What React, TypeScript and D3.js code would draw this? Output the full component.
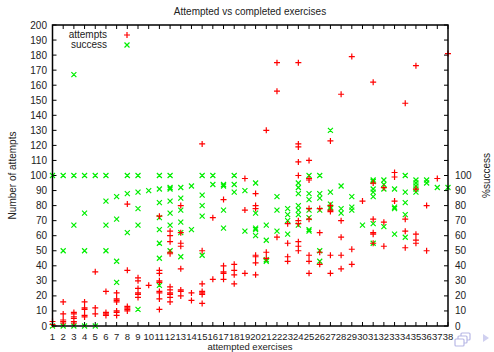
import * as d3 from "d3";

// exercise number on the x axis
const exercises = [1, 2, 3, 4, 5, 6, 7, 8, 9, 10, 11, 12, 13, 14, 15, 16, 17, 18, 19, 20, 21, 22, 23, 24, 25, 26, 27, 28, 29, 30, 31, 32, 33, 34, 35, 36, 37, 38];

// number of attempts per student, one list per exercise
const attempts = [
  [3, 1],
  [16, 8, 4, 3, 2],
  [9, 8, 6, 5, 3, 2],
  [16, 12, 11, 7, 6],
  [36, 12, 8],
  [23, 9, 8, 7],
  [22, 18, 17, 16, 10, 9, 7],
  [81, 37, 13, 12, 11, 10],
  [32, 30, 25, 22, 21, 19],
  [27],
  [73, 37, 35, 30, 29, 23, 22, 18, 11],
  [63, 60, 56, 49, 48, 26, 24, 22, 21, 19, 16],
  [80, 62, 55, 53, 38, 24, 23, 20],
  [22, 17],
  [121, 50, 28, 23, 22, 21, 15],
  [72, 31],
  [84, 40, 36, 35, 31],
  [41, 37, 34, 28],
  [98, 77, 35],
  [88, 80, 78, 47, 46, 42, 34],
  [130, 49, 45],
  [175, 156, 59],
  [68, 55, 46, 43],
  [175, 121, 119, 109, 100, 70, 68, 56, 53, 50],
  [110, 98, 97, 78, 71, 47, 43, 35],
  [78, 62, 49, 41],
  [123, 80, 77, 76, 47, 35],
  [154, 70, 59, 47, 38],
  [179, 51, 41],
  [83],
  [162, 95, 71, 62, 61, 55],
  [92, 69, 53],
  [102, 99, 83],
  [148, 71, 63, 52],
  [173, 91, 61, 57, 55],
  [80, 50],
  [98],
  [181],
];

// %success per student, one list per exercise
const success = [
  [100, 0],
  [100, 50, 0],
  [167, 100, 67, 0],
  [100, 75, 50, 0],
  [100, 0],
  [100, 83, 67, 50],
  [86, 71, 43, 29],
  [100, 88, 62],
  [100, 89, 78, 67, 11],
  [90],
  [100, 91, 82, 72, 64, 55, 45, 27],
  [100, 92, 91, 83, 75, 67, 50],
  [92, 85, 77, 69, 62, 46],
  [93, 64],
  [100, 87, 80, 73, 47],
  [100, 94],
  [94, 93, 77, 65],
  [100, 94, 89],
  [90, 63],
  [95, 75, 65, 64, 60],
  [67, 57, 44, 43],
  [86, 77, 63],
  [78, 74, 70, 61],
  [95, 92, 88, 80, 77, 74, 67],
  [100, 88, 84, 77, 72, 64, 63],
  [100, 88, 85, 77, 50, 43],
  [130, 89, 81, 79, 78],
  [93, 78, 75],
  [86, 79, 77],
  [67],
  [97, 96, 91, 89, 86, 68, 55],
  [97, 94, 91, 66],
  [91, 79, 78, 61],
  [100, 89, 82, 74, 59],
  [97, 95, 93, 91, 89],
  [97, 95],
  [92],
  [92],
];

const yTicks = [0, 10, 20, 30, 40, 50, 60, 70, 80, 90, 100, 110, 120, 130, 140, 150, 160, 170, 180, 190, 200];
const y2Labels = [0, 10, 20, 30, 40, 50, 60, 70, 80, 90, 100];

const font = "'Liberation Sans', Arial, sans-serif";

export default function App() {
  const width = 494;
  const height = 352;
  const left = 52.5;
  const right = 448;
  const top = 25;
  const bottom = 326;

  const x = d3.scaleLinear().domain([1, 38]).range([left, right]);
  const y = d3.scaleLinear().domain([0, 200]).range([bottom, top]);

  const plus = (cx: number, cy: number) => `M${cx - 3},${cy}h6M${cx},${cy - 3}v6`;
  const cross = (cx: number, cy: number) =>
    `M${cx - 2.5},${cy - 2.5}l5,5M${cx - 2.5},${cy + 2.5}l5,-5`;

  const redPath = exercises
    .flatMap((e, i) => attempts[i].map((v) => plus(x(e), y(v))))
    .join("");
  const greenPath = exercises
    .flatMap((e, i) => success[i].map((v) => cross(x(e), y(v))))
    .join("");

  return (
    <svg
      width={width}
      height={height}
      style={{ position: "absolute", left: 0, top: 0, background: "#fff" }}
      fontFamily={font}
      fontSize={10}
    >
      <text x={250} y={15} textAnchor="middle" fill="#222">
        Attempted vs completed exercises
      </text>

      {/* ticks */}
      <g stroke="#000" strokeWidth={1}>
        {yTicks.map((t) => (
          <g key={"y" + t}>
            <line x1={left} x2={left + 4} y1={y(t)} y2={y(t)} />
            <line x1={right} x2={right - 4} y1={y(t)} y2={y(t)} />
          </g>
        ))}
        {exercises.map((e) => (
          <g key={"x" + e}>
            <line x1={x(e)} x2={x(e)} y1={bottom} y2={bottom - 4} />
            <line x1={x(e)} x2={x(e)} y1={top} y2={top + 4} />
          </g>
        ))}
      </g>

      {yTicks.map((t) => (
        <text key={"yl" + t} x={47} y={y(t) + 3.5} textAnchor="end" fill="#222">
          {t}
        </text>
      ))}
      {y2Labels.map((t) => (
        <text key={"y2l" + t} x={455} y={y(t) + 3.5} fill="#222">
          {t}
        </text>
      ))}
      {exercises.map((e) => (
        <text key={"xl" + e} x={x(e)} y={339.5} fontSize={9.5} textAnchor="middle" fill="#222">
          {e}
        </text>
      ))}

      <text
        transform={`translate(16,${(top + bottom) / 2}) rotate(-90)`}
        textAnchor="middle"
        fill="#222"
      >
        Number of attempts
      </text>
      <text
        transform={`translate(490,${(top + bottom) / 2}) rotate(-90)`}
        textAnchor="middle"
        fill="#222"
      >
        %success
      </text>
      <text x={250} y={350} fontSize={9.5} textAnchor="middle" fill="#222">
        attempted exercises
      </text>

      <path d={greenPath} stroke="#00ee00" strokeWidth={1.2} fill="none" />
      <path d={redPath} stroke="#ff0000" strokeWidth={1.2} fill="none" />

      <rect x={left} y={top} width={right - left} height={bottom - top} fill="none" stroke="#000" strokeWidth={1.5} />

      {/* legend */}
      <text x={107} y={38} textAnchor="end" fill="#222">attempts</text>
      <text x={107} y={48} textAnchor="end" fill="#222">success</text>
      <path d={plus(127, 35)} stroke="#ff0000" strokeWidth={1.2} />
      <path d={cross(127, 45)} stroke="#00ee00" strokeWidth={1.2} />

      {/* beamer navigation symbols */}
      <g stroke="#b8b8e6" fill="#fff" strokeWidth={1.2}>
        <rect x={461} y={333} width={9} height={7} rx={1} />
        <rect x={458} y={336} width={9} height={7} rx={1} />
        <rect x={455} y={339} width={9} height={7} rx={1} />
      </g>
      <path d="M483,334 l6,4 l-6,4 z" fill="#d0d0f0" />
    </svg>
  );
}
